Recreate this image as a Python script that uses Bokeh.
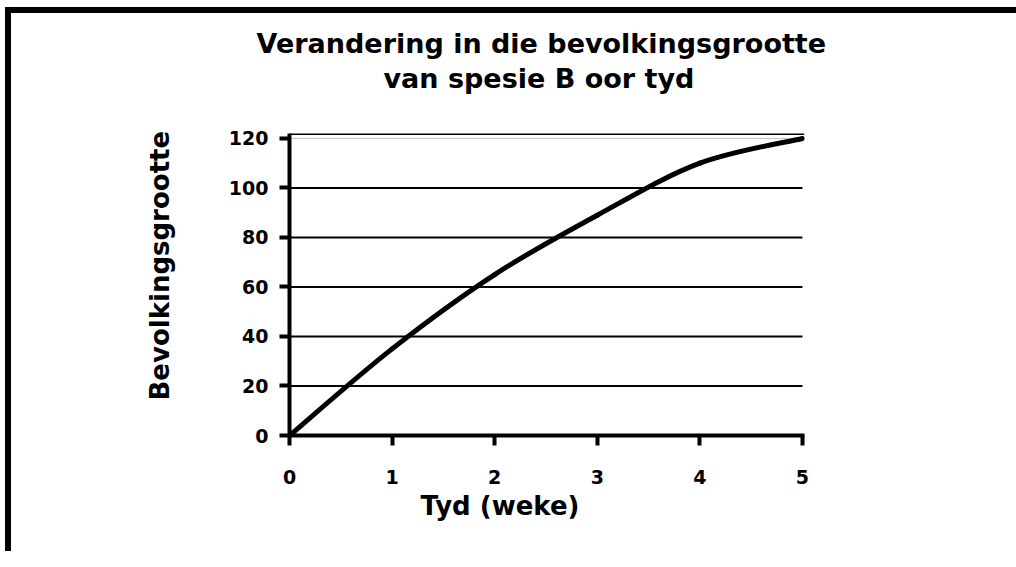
from bokeh.plotting import figure
from bokeh.models import FixedTicker, Range1d, Span, Title
from bokeh.embed import file_html
from bokeh.resources import INLINE

# ---- data ----
weeks = [0, 1, 2, 3, 4, 5]
population = [0, 35, 65, 89, 110, 120]
x_ticks = [0, 1, 2, 3, 4, 5]
y_ticks = [0, 20, 40, 60, 80, 100, 120]
grid_values = [20, 40, 60, 80, 100]
top_grid = [120]
title_lines = ["Verandering in die bevolkingsgrootte", "van spesie B oor tyd"]
x_title = "Tyd (weke)"
y_title = "Bevolkingsgrootte"

X_END = 5.02
Y_END = 122
FONT = "DejaVu Sans"

p = figure(width=1000, height=551, output_backend="svg", toolbar_location=None,
           x_range=Range1d(0, X_END), y_range=Range1d(0, Y_END),
           min_border_left=289, min_border_right=196,
           min_border_top=133, min_border_bottom=116)
p.outline_line_color = None
p.xgrid.visible = False
p.ygrid.visible = False
p.background_fill_color = "white"
p.border_fill_color = "white"
p.border_fill_alpha = 0
p.styles = {
    "background": ("linear-gradient(#000,#000) 5px 7px / 6px 560px no-repeat, "
                   "linear-gradient(#000,#000) 5px 7px / 1011px 6px no-repeat, #fff"),
    "box-shadow": "300px -265.5px 0 -272.5px #000",
}

for ax in (p.xaxis[0], p.yaxis[0]):
    ax.axis_line_width = 4
    ax.axis_line_color = "black"
    ax.major_tick_line_width = 4
    ax.major_tick_line_color = "black"
    ax.major_tick_out = 10
    ax.major_tick_in = 0
    ax.minor_tick_line_color = None
    ax.major_label_text_font = FONT
    ax.major_label_text_font_style = "bold"
    ax.major_label_text_font_size = "19px"
    ax.major_label_text_color = "black"
p.xaxis.ticker = FixedTicker(ticks=x_ticks)
p.yaxis.ticker = FixedTicker(ticks=y_ticks)
p.xaxis.major_label_standoff = 24
p.yaxis.major_label_standoff = 11

# gridlines
p.segment(x0=[weeks[0]] * len(grid_values), x1=[weeks[-1]] * len(grid_values),
          y0=grid_values, y1=grid_values, line_color="black", line_width=2)
p.segment(x0=[weeks[0]] * len(top_grid), x1=[weeks[-1]] * len(top_grid),
          y0=top_grid, y1=top_grid, line_color="#bfbfbf", line_width=1)
p.add_layout(Span(location=Y_END, dimension="width", line_color="black", line_width=3))

# smoothed curve (Catmull-Rom as cubic Bezier)
n = len(weeks)
bx0, by0, bx1, by1, cx0, cy0, cx1, cy1 = [], [], [], [], [], [], [], []
for i in range(n - 1):
    pr = max(i - 1, 0)
    nx = min(i + 2, n - 1)
    bx0.append(weeks[i]); by0.append(population[i])
    bx1.append(weeks[i + 1]); by1.append(population[i + 1])
    cx0.append(weeks[i] + (weeks[i + 1] - weeks[pr]) / 6)
    cy0.append(population[i] + (population[i + 1] - population[pr]) / 6)
    cx1.append(weeks[i + 1] - (weeks[nx] - weeks[i]) / 6)
    cy1.append(population[i + 1] - (population[nx] - population[i]) / 6)
p.bezier(x0=bx0, y0=by0, x1=bx1, y1=by1, cx0=cx0, cy0=cy0, cx1=cx1, cy1=cy1,
         line_color="black", line_width=5, line_cap="round")

# texts as titles
def style_title(t, size="26px"):
    t.text_font = FONT
    t.text_font_style = "bold"
    t.text_font_size = size
    t.text_color = "black"
    return t

# outermost: first title line
p.title.text = title_lines[0]
style_title(p.title, "27px")
p.title.align = "left"
p.title.offset = -33
p.title.standoff = 3

# spacer closest to the frame, then the second title line
spacer = style_title(Title(text=" ", align="left", offset=0, standoff=7), "27px")
p.add_layout(spacer, "above")
t2 = style_title(Title(text=title_lines[1], align="left", offset=94, standoff=0), "27px")
p.add_layout(t2, "above")

tx = style_title(Title(text=x_title, align="left", offset=131, standoff=4))
p.add_layout(tx, "below")

ty = style_title(Title(text=y_title, align="left", offset=35, standoff=102))
p.add_layout(ty, "left")

open("out.html", "w").write(file_html(p, INLINE))
